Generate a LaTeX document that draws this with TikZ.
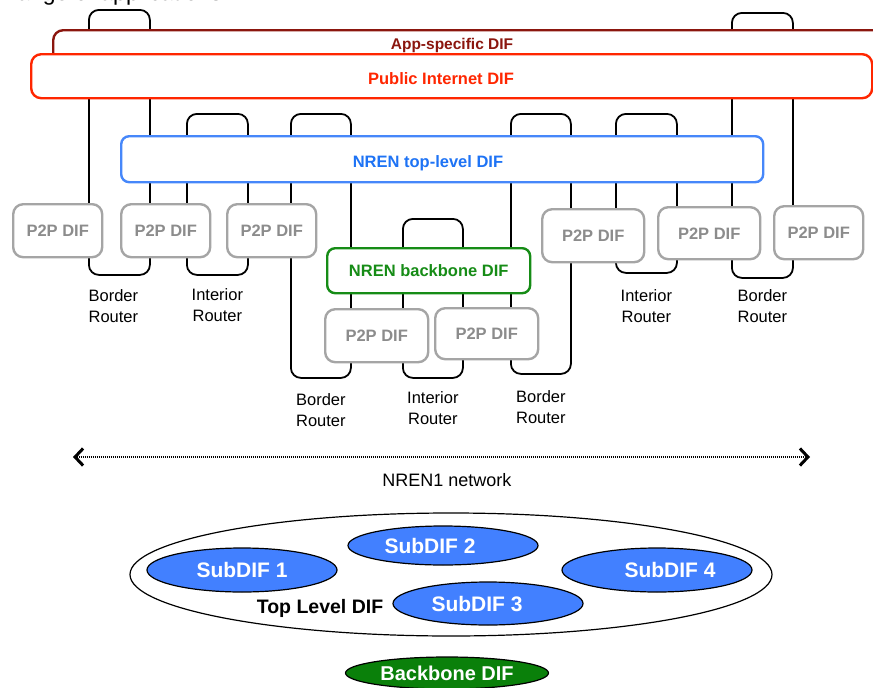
\documentclass[tikz,border=0pt]{standalone}
\usepackage{fontspec}
\setmainfont{Liberation Sans}
\usetikzlibrary{arrows.meta,positioning,shapes.geometric}
\definecolor{appred}{RGB}{139,22,14}
\definecolor{pubred}{RGB}{255,38,0}
\definecolor{nrenblue}{RGB}{70,135,250}
\definecolor{nrentext}{RGB}{30,115,245}
\definecolor{bbgreen}{RGB}{22,140,22}
\definecolor{p2pgray}{RGB}{165,165,165}
\definecolor{p2ptext}{RGB}{140,140,140}
\definecolor{subblue}{RGB}{66,128,255}
\definecolor{bbfill}{RGB}{10,128,10}
\newcommand{\fsz}[2]{\fontsize{#1}{#2}\selectfont}

\begin{document}
\begin{tikzpicture}[
  x=1pt, y=-1pt,
  font=\fsz{16.5}{20.7},
  bar/.style={draw, rounded corners=10pt, line width=2.4pt, fill=white, anchor=north west, inner sep=0pt},
  bartext/.style={font=\fsz{16.5}{20.7}\bfseries, text height=11.8pt, text depth=0pt, inner sep=0pt},
  p2p/.style={bar, draw=p2pgray, text=p2ptext, bartext},
  rtr/.style={draw, rounded corners=10pt, line width=1.8pt, anchor=north west, inner sep=0pt},
  rlab/.style={align=center, inner sep=0pt},
  sub/.style={ellipse, draw, line width=1.2pt, fill=subblue, text=white, inner sep=0pt,
    font=\fsz{21}{25}\bfseries, text height=15pt, text depth=0pt},
  netarr/.style={{Straight Barb[length=8pt,width=17pt,line width=3pt]}-{Straight Barb[length=8pt,width=17pt,line width=3pt]},
    line width=1.2pt, dash pattern=on 1pt off 1pt}
]
\useasboundingbox (0,0) rectangle (873,688);
\node[anchor=base west, inner sep=0pt, font=\fsz{23}{27}] (intro) at (9.5,0) {range of applications};

% routers, drawn first so the DIFs cover them
\node[rtr, minimum width=61pt, minimum height=265pt] (br1) at (88,9) {};
\node[rtr, minimum width=61pt, minimum height=161pt] (ir1) at (186,113) {};
\node[rtr, minimum width=60pt, minimum height=264pt] (br2) at (290,113) {};
\node[rtr, minimum width=60pt, minimum height=159pt] (ir2) at (402,218) {};
\node[rtr, minimum width=60pt, minimum height=260pt] (br3) at (510,113) {};
\node[rtr, minimum width=61pt, minimum height=159pt] (ir3) at (615,113) {};
\node[rtr, minimum width=61pt, minimum height=265pt] (br4) at (731,12) {};

% DIF layers
\node[bar, draw=appred, minimum width=860pt, minimum height=50pt] (app) at (52,29) {};
\node[bar, draw=pubred, minimum width=841pt, minimum height=44pt] (pub) at (30,53) {};
\node[bar, draw=nrenblue, minimum width=642pt, minimum height=46pt, rounded corners=8pt] (nren) at (120,135) {};
\node[bar, draw=bbgreen, text=bbgreen, bartext, minimum width=203pt, minimum height=45pt, rounded corners=8pt] (bbdif) at (326,247) {NREN backbone DIF};
\node[bartext, text=appred, font=\fsz{15.5}{19}\bfseries] (apptxt) at (452,43.3) {App-specific DIF};
\node[bartext, text=pubred] (pubtxt) at (441,78.5) {Public Internet DIF};
\node[bartext, text=nrentext] (nrentxt) at (428,161.7) {NREN top-level DIF};

% point-to-point DIFs
\node[p2p, minimum width=89pt, minimum height=53pt] (p2pa) at (12,203) {P2P DIF};
\node[p2p, minimum width=89pt, minimum height=53pt] (p2pb) at (120,203) {P2P DIF};
\node[p2p, minimum width=89pt, minimum height=53pt] (p2pc) at (226,203) {P2P DIF};
\node[p2p, minimum width=103pt, minimum height=53pt] (p2pd) at (324,308) {P2P DIF};
\node[p2p, minimum width=103pt, minimum height=51pt] (p2pe) at (434,307) {P2P DIF};
\node[p2p, minimum width=102pt, minimum height=53pt] (p2pf) at (541,208) {P2P DIF};
\node[p2p, minimum width=102pt, minimum height=52pt] (p2pg) at (657,206) {P2P DIF};
\node[p2p, minimum width=89pt, minimum height=53pt] (p2ph) at (773,205) {P2P DIF};

% router names
\node[rlab, below=14pt of br1, xshift=-6pt] (br1lab) {Border\\Router};
\node[rlab, below=13pt of ir1] (ir1lab) {Interior\\Router};
\node[rlab, below=15pt of br2] (br2lab) {Border\\Router};
\node[rlab, below=13pt of ir2] (ir2lab) {Interior\\Router};
\node[rlab, below=16pt of br3] (br3lab) {Border\\Router};
\node[rlab, below=16pt of ir3] (ir3lab) {Interior\\Router};
\node[rlab, below=11pt of br4] (br4lab) {Border\\Router};

% network extent
\coordinate (netL) at (73,457);
\coordinate (netR) at (810,457);
\draw[netarr] (netL) -- (netR);
\node[font=\fsz{18}{22}] (netlab) at (447,480) {NREN1 network};

% DIF hierarchy
\node[ellipse, draw, line width=1.2pt, minimum width=642pt, minimum height=123pt, inner sep=0pt] (tld) at (451,574.5) {};
\node[sub, minimum width=190pt, minimum height=44pt] (sub1) at (242,570) {SubDIF 1};
\node[sub, minimum width=190pt, minimum height=39pt] (sub2) at (443,545.5) {SubDIF 2\hspace*{26pt}};
\node[sub, minimum width=190pt, minimum height=43pt] (sub3) at (488,603.5) {SubDIF 3\hspace*{22pt}};
\node[sub, minimum width=190pt, minimum height=44pt] (sub4) at (657,570) {\hspace*{26pt}SubDIF 4};
\node[font=\fsz{19.5}{23}\bfseries, inner sep=0pt] (tldtxt) at (320,608) {Top Level DIF};
\node[sub, fill=bbfill, font=\fsz{20}{24}\bfseries, minimum width=203pt, minimum height=32pt] (bbone) at (447,673) {Backbone DIF};
\end{tikzpicture}
\end{document}
